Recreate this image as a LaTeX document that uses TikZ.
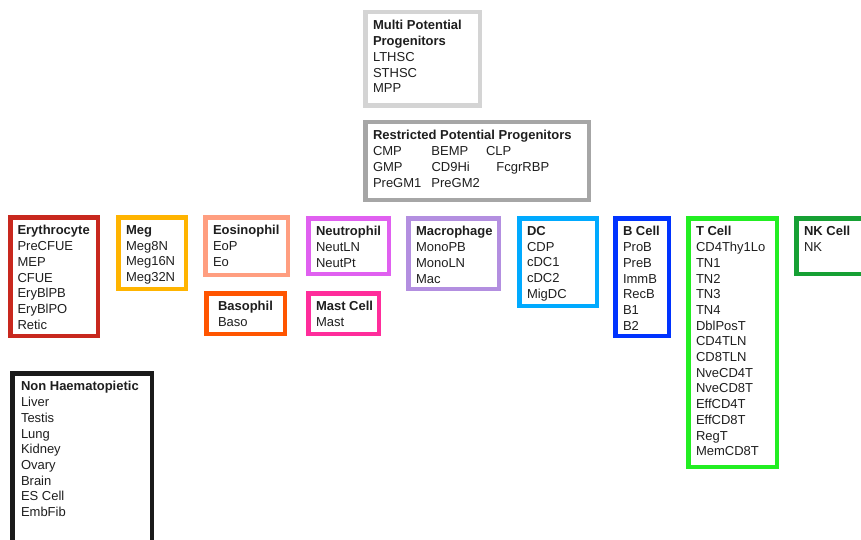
\documentclass[tikz,border=0pt]{standalone}
\usepackage{fontspec}
\setmainfont{Liberation Sans}
\definecolor{cmpp}{HTML}{D4D4D4}
\definecolor{crpp}{HTML}{A6A6A6}
\definecolor{cery}{HTML}{C8281E}
\definecolor{cmeg}{HTML}{FFB400}
\definecolor{ceos}{HTML}{FF9E80}
\definecolor{cbaso}{HTML}{FF5500}
\definecolor{cneut}{HTML}{E060F0}
\definecolor{cmast}{HTML}{FF2D9B}
\definecolor{cmac}{HTML}{B38FE0}
\definecolor{cdc}{HTML}{00AAFF}
\definecolor{cbc}{HTML}{0033FF}
\definecolor{ctc}{HTML}{22EE22}
\definecolor{cnk}{HTML}{16A034}
\definecolor{cnh}{HTML}{1A1A1A}
\definecolor{ctxt}{HTML}{1E1E1E}
\newcommand{\cellbox}[8]{%
  \node[cbox, draw=#2, minimum width={#5-#3-4.5}, minimum height={#6-#4-4.5}] (#1) at ({(#3+#5)/2},{(#4+#6)/2}) {};
  \node[ctext] (#1t) at ({#3+#8},{#4+10.5}) {#7};
}
\begin{document}
\begin{tikzpicture}[x=1pt,y=-1pt,
  cbox/.style={draw, line width=4.5pt, inner sep=0pt, outer sep=0pt},
  ctext/.style={inner sep=0pt, outer sep=0pt, anchor=north west, align=left,
    font=\fontsize{13}{15.7}\selectfont, text=ctxt}]
\useasboundingbox (0,0) rectangle (861,540);
\clip (0,0) rectangle (861,540);
\cellbox{mpp}{cmpp}{363}{10}{482}{108}{\textbf{Multi Potential}\\\textbf{Progenitors}\\LTHSC\\STHSC\\MPP}{10}
\cellbox{rpp}{crpp}{363}{120}{591}{202}{\textbf{Restricted Potential Progenitors}\\
  \makebox[58.5pt][l]{CMP}\makebox[54.5pt][l]{BEMP}CLP\\
  \makebox[58.5pt][l]{GMP}\makebox[65pt][l]{CD9Hi}FcgrRBP\\
  \makebox[58.5pt][l]{PreGM1}PreGM2}{10}
\cellbox{ery}{cery}{8}{215}{100}{338}{\textbf{Erythrocyte}\\PreCFUE\\MEP\\CFUE\\EryBlPB\\EryBlPO\\Retic}{9.5}
\cellbox{meg}{cmeg}{116}{215}{188}{291}{\textbf{Meg}\\Meg8N\\Meg16N\\Meg32N}{10}
\cellbox{eos}{ceos}{203}{215}{290}{277}{\textbf{Eosinophil}\\EoP\\Eo}{10}
\cellbox{baso}{cbaso}{204}{291}{287}{336}{\textbf{Basophil}\\Baso}{14}
\cellbox{neut}{cneut}{306}{216}{391}{276}{\textbf{Neutrophil}\\NeutLN\\NeutPt}{10}
\cellbox{mast}{cmast}{306}{291}{381}{336}{\textbf{Mast Cell}\\Mast}{10}
\cellbox{mac}{cmac}{406}{216}{501}{291}{\textbf{Macrophage}\\MonoPB\\MonoLN\\Mac}{10}
\cellbox{dc}{cdc}{517}{216}{599}{308}{\textbf{DC}\\CDP\\cDC1\\cDC2\\MigDC}{10}
\cellbox{bc}{cbc}{613}{216}{671}{338}{\textbf{B Cell}\\ProB\\PreB\\ImmB\\RecB\\B1\\B2}{10}
\cellbox{tc}{ctc}{686}{216}{779}{469}{\textbf{T Cell}\\CD4Thy1Lo\\TN1\\TN2\\TN3\\TN4\\DblPosT\\CD4TLN\\CD8TLN\\NveCD4T\\NveCD8T\\EffCD4T\\EffCD8T\\RegT\\MemCD8T}{10}
\cellbox{nk}{cnk}{794}{216}{875}{276}{\textbf{NK Cell}\\NK}{10}
\cellbox{nh}{cnh}{10}{371}{154}{560}{\textbf{Non Haematopietic}\\Liver\\Testis\\Lung\\Kidney\\Ovary\\Brain\\ES Cell\\EmbFib}{11}
\end{tikzpicture}
\end{document}
